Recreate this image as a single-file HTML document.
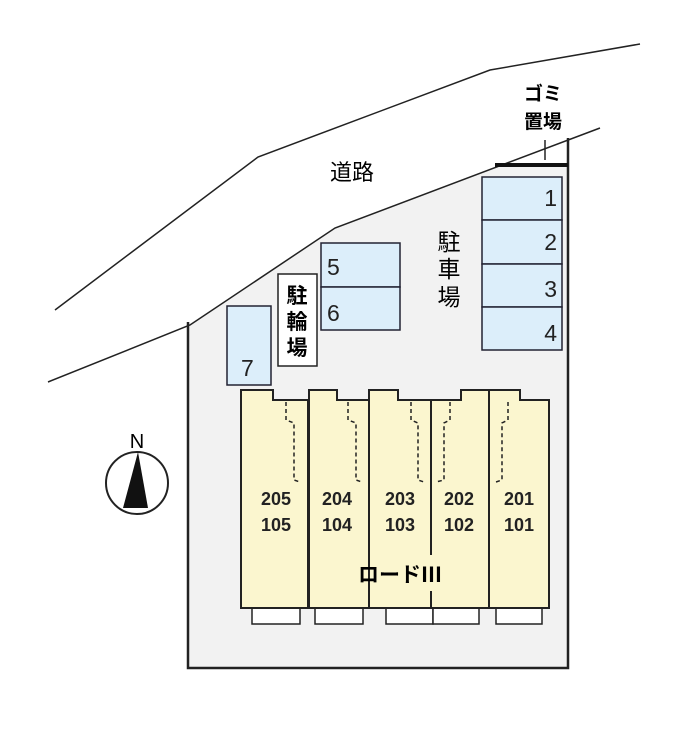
<!DOCTYPE html>
<html><head><meta charset="utf-8"><style>
html,body{margin:0;padding:0;background:#fff;}
svg text{font-family:"Liberation Sans","Noto Sans CJK JP",sans-serif;}
</style></head><body>
<svg width="700" height="733" viewBox="0 0 700 733" xmlns="http://www.w3.org/2000/svg">
<rect width="700" height="733" fill="#fff"/>
<!-- lot -->
<polygon points="188,325 335,228 495,167 568,167 568,668 188,668" fill="#f2f2f2"/>
<polyline points="568,138 568,668 188,668 188,322" fill="none" stroke="#222" stroke-width="2.5"/>
<!-- road lines -->
<polyline points="48,382 190,325 335,228 600,128" fill="none" stroke="#222" stroke-width="1.5"/>
<polyline points="55,310 258,157 490,70 640,44" fill="none" stroke="#222" stroke-width="1.5"/>
<!-- gomi -->
<line x1="495" y1="165" x2="568" y2="165" stroke="#111" stroke-width="4"/>
<line x1="545" y1="140" x2="545" y2="160" stroke="#222" stroke-width="1.5"/>
<text x="543" y="100" font-size="19" font-weight="bold" text-anchor="middle">ゴミ</text>
<text x="543" y="128" font-size="19" font-weight="bold" text-anchor="middle">置場</text>
<text x="352" y="180" font-size="22" text-anchor="middle">道路</text>
<!-- parking -->
<g fill="#dceefa" stroke="#223" stroke-width="1.5">
<rect x="482" y="177" width="80" height="43"/><rect x="482" y="220" width="80" height="44"/>
<rect x="482" y="264" width="80" height="43"/><rect x="482" y="307" width="80" height="43"/>
<rect x="321" y="243" width="79" height="44"/><rect x="321" y="287" width="79" height="43"/>
<rect x="227" y="306" width="44" height="79"/>
</g>
<g font-size="23" fill="#222">
<text x="557" y="206" text-anchor="end">1</text><text x="557" y="250" text-anchor="end">2</text>
<text x="557" y="297" text-anchor="end">3</text><text x="557" y="341" text-anchor="end">4</text>
<text x="327" y="275">5</text><text x="327" y="321">6</text><text x="241" y="376">7</text>
</g>
<text x="449" y="250" font-size="23" text-anchor="middle">駐</text>
<text x="449" y="277" font-size="23" text-anchor="middle">車</text>
<text x="449" y="305" font-size="23" text-anchor="middle">場</text>
<rect x="278" y="274" width="39" height="92" fill="#fff" stroke="#222" stroke-width="1.5"/>
<g font-size="21" font-weight="bold" text-anchor="middle"><text x="297" y="303">駐</text><text x="297" y="329">輪</text><text x="297" y="355">場</text></g>
<!-- balconies -->
<g fill="#fff" stroke="#222" stroke-width="1.5">
<rect x="252" y="606" width="48" height="18"/><rect x="315" y="606" width="48" height="18"/>
<rect x="386" y="606" width="47" height="18"/><rect x="433" y="606" width="46" height="18"/>
<rect x="496" y="606" width="46" height="18"/>
</g>
<!-- units -->
<g fill="#fbf6cf" stroke="#222" stroke-width="2">
<polygon points="241,390 273,390 273,400 308,400 308,608 241,608"/>
<polygon points="309,390 337,390 337,400 369,400 369,608 309,608"/>
<polygon points="369,390 398,390 398,400 431,400 431,608 369,608"/>
<polygon points="431,400 461,400 461,390 489,390 489,608 431,608"/>
<polygon points="489,390 520,390 520,400 549,400 549,608 489,608"/>
</g>
<rect x="371" y="555" width="117" height="36" fill="#fbf6cf"/>
<g fill="none" stroke="#222" stroke-width="1.5" stroke-dasharray="4,3">
<polyline points="286,402 286,420 294,423 294,480 300,482"/>
<polyline points="348,402 348,420 356,423 356,480 362,482"/>
<polyline points="411,402 411,420 418,423 418,480 424,482"/>
<polyline points="450,402 450,420 444,423 444,480 436,482"/>
<polyline points="508,402 508,420 502,423 502,480 496,482"/>
</g>
<g font-size="18" font-weight="bold" text-anchor="middle" fill="#222">
<text x="276" y="505">205</text><text x="337" y="505">204</text><text x="400" y="505">203</text><text x="459" y="505">202</text><text x="519" y="505">201</text>
<text x="276" y="531">105</text><text x="337" y="531">104</text><text x="400" y="531">103</text><text x="459" y="531">102</text><text x="519" y="531">101</text>
</g>
<text x="400" y="582" font-size="21" font-weight="bold" text-anchor="middle">ロードⅢ</text>
<!-- compass -->
<circle cx="137" cy="483" r="31" fill="#fff" stroke="#222" stroke-width="2"/>
<polygon points="138,452 123,508 148,508" fill="#111"/>
<text x="137" y="448" font-size="20" text-anchor="middle">N</text>
</svg>
</body></html>
